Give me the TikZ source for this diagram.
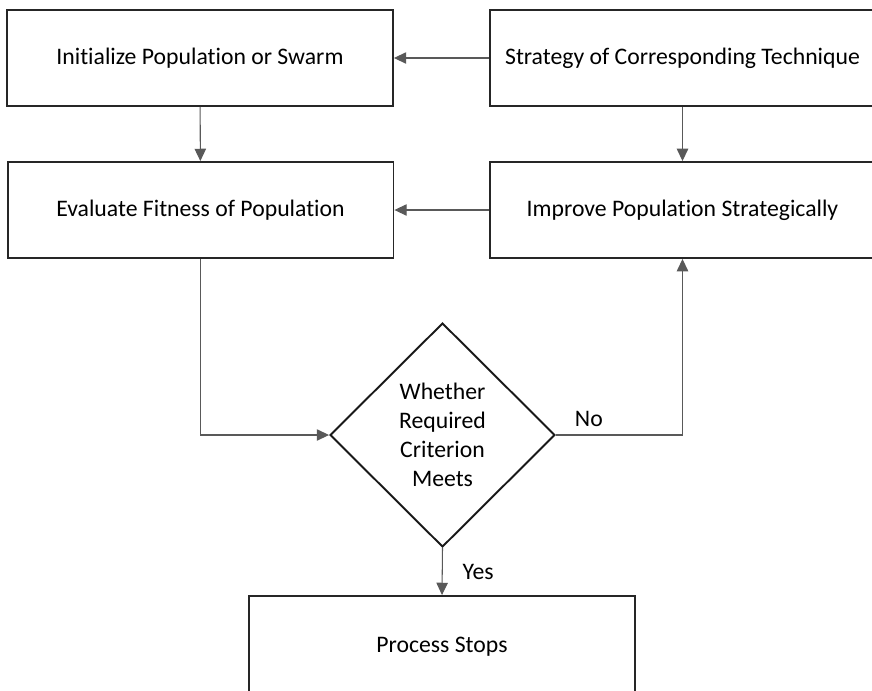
\documentclass[tikz,border=0pt]{standalone}
\usepackage{fontspec}
\setmainfont{Carlito}[Ligatures=NoCommon]
\usetikzlibrary{shapes.geometric,arrows.meta}
\tikzset{
    block/.style = {
        draw=black!85,
        line width=1.1pt,
        rectangle,
        inner sep=0pt,
        minimum width=7.72cm,
        minimum height=1.92cm,
        font=\fontsize{13.5}{16.5}\selectfont
    },
    decision/.style = {
        draw=black!90,
        line width=1.1pt,
        diamond,
        aspect=1,
        inner sep=0pt,
        minimum width=4.5cm,
        minimum height=4.48cm,
        align=center,
        font=\fontsize{13.5}{16.5}\selectfont
    },
    flow/.style = {
        draw=black!65,
        line width=0.6pt,
        -{Triangle[length=7pt,width=6.5pt]}
    },
    tag/.style = {
        font=\fontsize{13.5}{16.5}\selectfont
    }
}

\begin{document}
\begin{tikzpicture}[x=0.02cm,y=-0.02cm]
    \useasboundingbox (0,0) rectangle (872,690);
    \clip (0,0) rectangle (872,690);

    % Draw all blocks
    \node[block] (init) at (200,58) {Initialize Population or Swarm};
    \node[block, minimum width=7.7cm] (strat) at (682.5,58) {Strategy of Corresponding Technique};
    \node[block] (eval) at (200.5,210) {Evaluate Fitness of Population};
    \node[block, minimum width=7.7cm] (improve) at (682.5,210) {Improve Population Strategically};
    \node[decision] (crit) at (442.5,435) {Whether\\Required\\Criterion\\Meets};
    \node[block, minimum height=2.04cm] (stop) at (442,647) {Process Stops};

    % Draw arrows
    \draw[flow] (strat) -- (init);
    \draw[flow] (init) -- (eval);
    \draw[flow] (strat) -- (improve);
    \draw[flow] (improve) -- (eval);
    \draw[flow] (eval.south) |- (crit.west);
    \draw[flow] (crit.east) -| node[tag, pos=0.13, above=1pt] {No} (improve.south);
    \draw[flow] (crit.south) -- node[tag, right=8pt] {Yes} (stop.north);
\end{tikzpicture}
\end{document}
